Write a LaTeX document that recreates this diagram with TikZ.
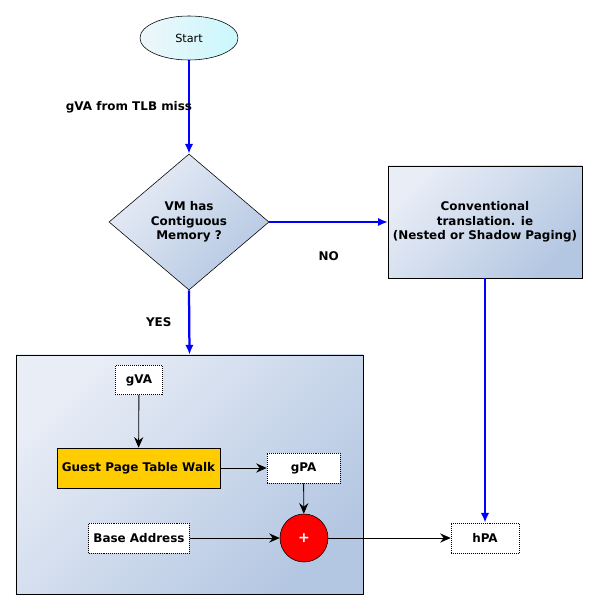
\documentclass[tikz,border=0pt]{standalone}
\usepackage{fontspec}
\setmainfont{DejaVu Sans}
\usetikzlibrary{shapes.geometric,arrows.meta}

\definecolor{boxlight}{HTML}{E8EDF6}
\definecolor{boxdark}{HTML}{B4C7E2}
\definecolor{startlight}{HTML}{EEF6FA}
\definecolor{startdark}{HTML}{C9F8FC}
\definecolor{walkyellow}{HTML}{FFCC00}

\begin{document}
\begin{tikzpicture}[x=0.025cm, y=-0.025cm, font=\fontsize{8.5}{10.2}\selectfont\bfseries]
    \tikzstyle{flow} = [line width=1.6pt, blue, ->, >={Latex[length=7pt, width=6pt]}]
    \tikzstyle{arrow} = [semithick, ->, >={Stealth[length=7.5pt, width=6.5pt, inset=2.5pt]}]
    \tikzstyle{shaded} = [draw, left color=boxlight, right color=boxdark, shading angle=45]
    \tikzstyle{value} = [draw, densely dotted, fill=white, align=center]
    \useasboundingbox (0,0) rectangle (596,610);

    % Start of the flow
    \node [draw, ellipse, minimum width=2.45cm, minimum height=1.1cm,
           left color=startlight, right color=startdark,
           font=\fontsize{8}{9.6}\selectfont\mdseries] (Start) at (189,38) {Start};

    % Decision on contiguous memory
    \node [diamond, shaded, minimum width=4cm, minimum height=3.4cm, inner sep=0pt,
           align=center, aspect=1.18] (Contig) at (189,222) {VM has\\Contiguous\\Memory ?};
    \draw [flow] (Start) -- node [black, xshift=-1.5cm] (Miss) {gVA from TLB miss} (Contig);

    % Conventional path
    \node [shaded, minimum width=4.75cm, minimum height=2.8cm, align=center] (Conv) at (485,222)
          {Conventional\\translation. ie\\(Nested or Shadow Paging)};
    \draw [flow] (Contig.east) -- node [black, below=0.6cm] (No) {NO} (Conv.west);

    % Direct segment box
    \node [shaded, minimum width=8.675cm, minimum height=5.975cm] (Segment) at (189.5,474.5) {};
    \draw [flow] (Contig.south) -- node [black, left=0.3cm] (Yes) {YES} (Segment.north);

      % Guest virtual address
      \node [value, minimum width=1.175cm, minimum height=0.725cm] (gVA) at (139,380) {gVA};

      % Guest page table walk
      \node [draw, fill=walkyellow, minimum width=4.025cm, minimum height=1cm] (Walk) at (138.5,468) {Guest Page Table Walk};
      \draw [arrow] (gVA) -- (Walk);

      % Guest physical address
      \node [value, minimum width=1.825cm, minimum height=0.75cm] (gPA) at (303.5,468) {gPA};
      \draw [arrow] (Walk) -- (gPA);

      % Adder
      \node [draw, circle, fill=red, text=white, minimum size=1.2cm, inner sep=0pt,
             font=\fontsize{10}{12}\selectfont\bfseries] (Plus) at (304,538) {+};
      \draw [arrow] (gPA) -- (Plus);

      % Base address
      \node [value, minimum width=2.45cm, minimum height=0.75cm] (Base) at (139,538) {Base Address};
      \draw [arrow] (Base) -- (Plus);

    % Host physical address
    \node [value, minimum width=1.7cm, minimum height=0.75cm] (hPA) at (485,538) {hPA};
    \draw [arrow] (Plus) -- (hPA);
    \draw [flow] (Conv.south) -- (hPA.north);
\end{tikzpicture}
\end{document}
